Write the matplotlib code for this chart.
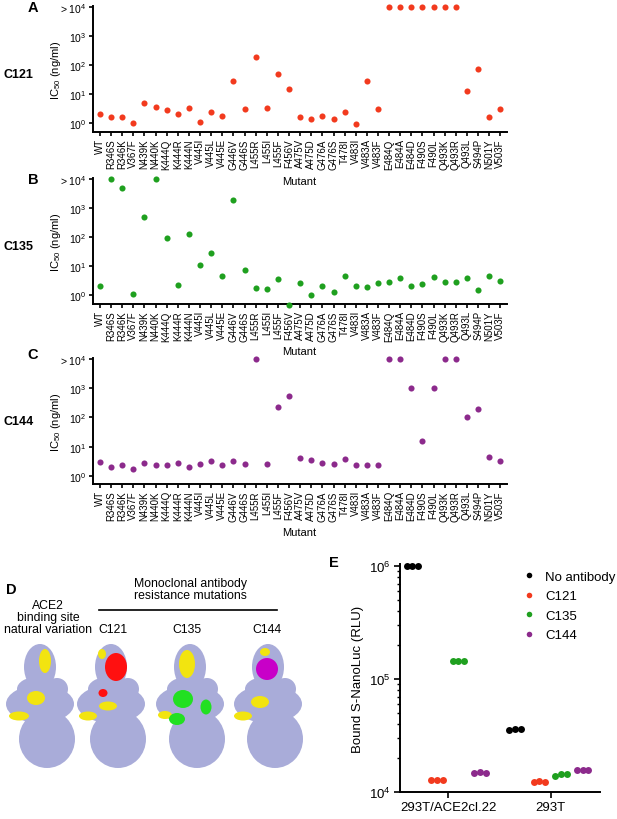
import numpy as np
import matplotlib
matplotlib.use('Agg')
import matplotlib.pyplot as plt
from matplotlib.patches import Ellipse
from matplotlib.lines import Line2D

plt.rcParams['font.family'] = ['Liberation Sans', 'DejaVu Sans']
plt.rcParams['mathtext.fontset'] = 'custom'
plt.rcParams['mathtext.rm'] = 'Liberation Sans'
plt.rcParams['mathtext.it'] = 'Liberation Sans:italic'
plt.rcParams['mathtext.bf'] = 'Liberation Sans:bold'

# ---- data ----
mutants = ['WT', 'R346S', 'R346K', 'V367F', 'N439K', 'N440K', 'K444Q', 'K444R',
           'K444N', 'V445I', 'V445L', 'V445E', 'G446V', 'G446S', 'L455R', 'L455I',
           'L455F', 'F456V', 'A475V', 'A475D', 'G476A', 'G476S', 'T478I', 'V483I',
           'V483A', 'V483F', 'E484Q', 'E484A', 'E484D', 'F490S', 'F490L', 'Q493K',
           'Q493R', 'Q493L', 'S494P', 'N501Y', 'V503F']
# IC50 (ng/ml); 1e4 means "> 10^4"
ic50_c121 = [2.0, 1.6, 1.6, 1.0, 5.0, 3.5, 2.7, 2.0, 3.2, 1.1, 2.4, 1.7, 28, 3.0,
             195, 3.3, 48, 15, 1.6, 1.4, 1.8, 1.4, 2.3, 0.95, 27, 3.0,
             1e4, 1e4, 1e4, 1e4, 1e4, 1e4, 1e4, 13, 70, 1.6, 3.1]
ic50_c135 = [2.0, 1e4, 4900, 1.1, 500, 1e4, 93, 2.2, 127, 11, 27, 4.5, 1800, 7.0,
             1.7, 1.65, 3.5, 0.47, 2.6, 1.0, 2.0, 1.3, 4.4, 2.1, 1.9, 2.5,
             2.7, 3.8, 2.0, 2.3, 4.2, 2.7, 2.7, 4.0, 1.5, 4.6, 3.0]
ic50_c144 = [3.0, 2.1, 2.3, 1.8, 2.8, 2.3, 2.3, 2.9, 2.0, 2.6, 3.3, 2.3, 3.4, 2.6,
             1e4, 2.6, 225, 550, 4.3, 3.6, 2.9, 2.6, 3.7, 2.45, 2.4, 2.45,
             1e4, 1e4, 1000, 16, 1000, 1e4, 1e4, 105, 188, 4.4, 3.4]
ic50_ticks = [1e0, 1e1, 1e2, 1e3, 1e4]
ic50_ticklabels = ['$10^0$', '$10^1$', '$10^2$', '$10^3$', '> $10^4$']

cell_lines = ['293T/ACE2cl.22', '293T']
conditions = ['No antibody', 'C121', 'C135', 'C144']
rlu_noab = [[1.0e6, 1.0e6, 1.0e6], [3.55e4, 3.6e4, 3.6e4]]
rlu_c121 = [[1.28e4, 1.29e4, 1.28e4], [1.23e4, 1.26e4, 1.23e4]]
rlu_c135 = [[1.45e5, 1.45e5, 1.45e5], [1.40e4, 1.45e4, 1.45e4]]
rlu_c144 = [[1.46e4, 1.50e4, 1.48e4], [1.57e4, 1.57e4, 1.57e4]]

RED = '#F23A1E'
GREEN = '#1FA01F'
PURPLE = '#8C2A8C'

W, H = 617, 820
fig = plt.figure(figsize=(W / 100, H / 100), dpi=100)


def px(left, top, right, bottom):
    return [left / W, 1 - bottom / H, (right - left) / W, (bottom - top) / H]


def style_axes(ax, length=4, pad=3):
    for s in ['top', 'right']:
        ax.spines[s].set_visible(False)
    for s in ['left', 'bottom']:
        ax.spines[s].set_linewidth(1.4)
    ax.tick_params(width=1.2, length=length, pad=pad, color='black')


def ic50_panel(rect, values, color, ylo):
    ax = fig.add_axes(rect)
    ax.set_facecolor('none')
    x = np.arange(len(mutants))
    ax.plot(x, values, 'o', color=color, ms=4.4, mec='none', clip_on=False, zorder=3)
    ax.set_yscale('log')
    ax.set_ylim(10 ** ylo, 10 ** 4.03)
    ax.set_xlim(-0.63, len(mutants) - 0.4)
    ax.set_yticks(ic50_ticks)
    ax.set_yticklabels(ic50_ticklabels, fontsize=7.5)
    ax.yaxis.set_minor_locator(matplotlib.ticker.NullLocator())
    ax.set_xticks(x)
    ax.set_xticklabels(mutants, rotation=90, fontsize=7.0)
    ax.set_ylabel('IC$_{50}$ (ng/ml)', fontsize=8)
    ax.yaxis.set_label_coords(-0.073, 0.5)
    style_axes(ax, length=3, pad=1.5)
    return ax


ax_a = ic50_panel(px(93, 7, 507, 133), ic50_c121, RED, -0.31)
ax_b = ic50_panel(px(93, 179, 507, 305), ic50_c135, GREEN, -0.31)
ax_c = ic50_panel(px(93, 359, 507, 485), ic50_c144, PURPLE, -0.27)

# ---- panel E ----
ax_e = fig.add_axes(px(400, 565, 600, 793))
ax_e.set_facecolor('none')
offsets = [-0.35, -0.11, 0.10, 0.31]
rep = np.array([-0.055, 0, 0.055])
e_colors = ['black', RED, GREEN, PURPLE]
for j, (vals, col) in enumerate(zip([rlu_noab, rlu_c121, rlu_c135, rlu_c144], e_colors)):
    for i in range(len(cell_lines)):
        ax_e.plot(i + offsets[j] + rep, vals[i], 'o', color=col, ms=5, mec='none',
                  clip_on=False, zorder=3)
ax_e.set_yscale('log')
ax_e.set_ylim(1e4, 10 ** 6.02)
ax_e.set_xlim(-0.47, 1.48)
ax_e.set_xticks(range(len(cell_lines)))
ax_e.set_xticklabels(cell_lines, fontsize=9.5)
ax_e.set_yticks([1e4, 1e5, 1e6])
ax_e.set_yticklabels(['$10^4$', '$10^5$', '$10^6$'], fontsize=9.5)
ax_e.set_ylabel('Bound S-NanoLuc (RLU)', fontsize=9.5, labelpad=4)
style_axes(ax_e, length=4, pad=2.5)
ax_e.tick_params(which='minor', length=2.5, width=1.0)
handles = [Line2D([], [], ls='none', marker='o', ms=4, color=c, mec='none') for c in e_colors]
ax_e.legend(handles, conditions, loc='upper left', bbox_to_anchor=(516 / W, 1 - 565 / H),
            bbox_transform=fig.transFigure, frameon=False, fontsize=9.5,
            handlelength=1.0, handletextpad=0.7, labelspacing=0.55, borderpad=0)

# ---- overlay for free text and panel D ----
ov = fig.add_axes([0, 0, 1, 1])
ov.set_xlim(0, W)
ov.set_ylim(H, 0)
ov.axis('off')
ov.patch.set_visible(False)

for letter, name, y0 in [('A', 'C121', 8), ('B', 'C135', 180), ('C', 'C144', 355)]:
    ov.text(33, y0, letter, fontsize=10.5, fontweight='bold', ha='center', va='center')
    ov.text(3, y0 + 67, name, fontsize=9, fontweight='bold', ha='left', va='center')
for ym in [182, 352, 533]:
    ov.text(299, ym, 'Mutant', fontsize=8, ha='center', va='center')
ov.text(334, 563, 'E', fontsize=10.5, fontweight='bold', ha='center', va='center')

# panel D: stylised RBD surfaces
ov.text(11, 590, 'D', fontsize=10.5, fontweight='bold', ha='center', va='center')
ov.text(48, 618, 'ACE2\nbinding site\nnatural variation', fontsize=8.8, ha='center',
        va='center', linespacing=1.05)
ov.text(190, 590, 'Monoclonal antibody\nresistance mutations', fontsize=8.8,
        ha='center', va='center', linespacing=1.05)
ov.plot([99, 277], [611, 611], color='black', lw=1.2)
for xc, lab in [(113, 'C121'), (187, 'C135'), (267, 'C144')]:
    ov.text(xc, 630, lab, fontsize=8.8, ha='center', va='center')

LAV = '#A9ACD9'
YEL = '#F2E410'
body = [(33, 668, 32, 46), (33, 705, 68, 38), (40, 740, 56, 58), (50, 690, 22, 22),
        (30, 690, 40, 24)]
yellow_full = [(38, 662, 12, 24), (29, 699, 18, 14), (12, 717, 20, 9)]
yellow_rest = [(24, 655, 8, 10), (30, 707, 18, 9), (10, 717, 18, 9)]
molecules = [
    (7, yellow_full, []),
    (78, yellow_rest, [('#FF1010', (38, 668, 22, 28)), ('#FF1010', (25, 694, 9, 8))]),
    (157, [(30, 665, 16, 28), (8, 716, 14, 8)],
     [('#22E022', (26, 700, 20, 18)), ('#22E022', (49, 708, 11, 15)),
      ('#22E022', (20, 720, 16, 12))]),
    (235, [(30, 653, 10, 8), (25, 703, 18, 12), (8, 717, 18, 9)],
     [('#C800C8', (32, 670, 22, 22))]),
]
for x0, yel, hl in molecules:
    for cx, cy, w, h in body:
        ov.add_patch(Ellipse((x0 + cx, cy), w, h, color=LAV, lw=0))
    for cx, cy, w, h in yel:
        ov.add_patch(Ellipse((x0 + cx, cy), w, h, color=YEL, lw=0))
    for col, (cx, cy, w, h) in hl:
        ov.add_patch(Ellipse((x0 + cx, cy), w, h, color=col, lw=0))

fig.savefig('out.png', dpi=100)
